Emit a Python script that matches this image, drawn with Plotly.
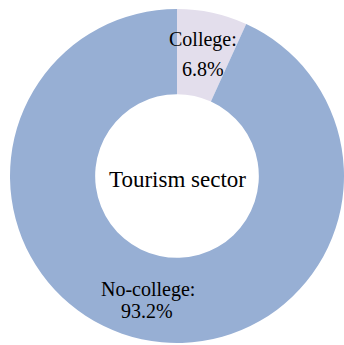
import plotly.graph_objects as go

# Share of tourism-sector workers by education level (%)
labels = ["College", "No-college"]
values = [6.8, 93.2]
colors = ["#E3DEEC", "#97AFD4"]
center_title = "Tourism sector"

W, H = 344, 345
FONT = "Liberation Serif, Times New Roman, serif"

fig = go.Figure(
    go.Pie(
        labels=labels,
        values=values,
        hole=0.49,
        sort=False,
        direction="clockwise",
        rotation=0,
        marker=dict(colors=colors, line=dict(width=0)),
        textinfo="none",
        hoverinfo="label+percent",
        domain=dict(x=[10 / W, 1.0], y=[2 / H, 336 / H]),
        showlegend=False,
    )
)


def px_annot(text, x, y, size):
    return dict(
        text=text, x=x / W, y=1 - y / H, xref="paper", yref="paper",
        xanchor="center", yanchor="middle", showarrow=False,
        font=dict(family=FONT, size=size, color="#000000"),
    )


# Slice labels: name on one line, value on the next
label_pos = {
    "College": [(203, 40), (203, 69)],
    "No-college": [(148, 289), (147, 311)],
}
annotations = []
for name, val in zip(labels, values):
    (x1, y1), (x2, y2) = label_pos[name]
    annotations.append(px_annot(f"{name}:", x1, y1, 20))
    annotations.append(px_annot(f"{val}%", x2, y2, 20))

annotations.append(px_annot(center_title, 177, 179, 23))

fig.update_layout(
    width=W,
    height=H,
    margin=dict(l=0, r=0, t=0, b=0),
    paper_bgcolor="white",
    plot_bgcolor="white",
    font=dict(family=FONT),
    annotations=annotations,
)

fig.write_html("out.html")
